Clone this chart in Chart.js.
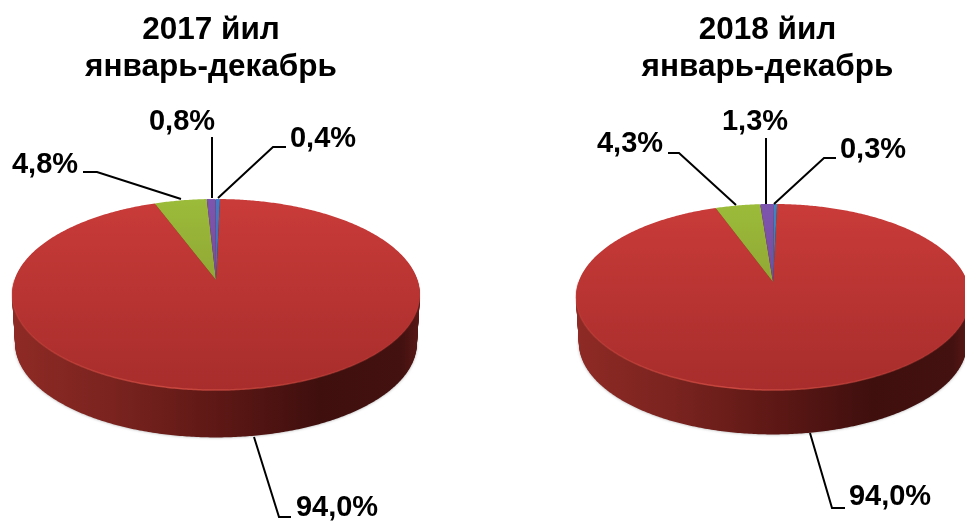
<!DOCTYPE html>
<html>
<head>
  <meta charset="UTF-8">
  <title>2017-2018</title>
  <script src="https://cdn.jsdelivr.net/npm/chart.js"></script>
  <style>
    html, body { margin: 0; padding: 0; background: #fff; width: 965px; height: 521px; overflow: hidden; }
    canvas { position: absolute; top: 0; }
    #chart2017 { left: 0; }
    #chart2018 { left: 553px; }
  </style>
</head>
<body>
  <canvas id="chart2017" width="422" height="521"></canvas>
  <canvas id="chart2018" width="429" height="521"></canvas>

  <script>
    // values
    const titles2017 = ['2017 йил', 'январь-декабрь'];
    const titles2018 = ['2018 йил', 'январь-декабрь'];
    const labels2017 = ['94,0%', '4,8%', '0,8%', '0,4%'];
    const labels2018 = ['94,0%', '4,3%', '1,3%', '0,3%'];
    const values2017 = [94.0, 4.8, 0.8, 0.4];
    const values2018 = [94.0, 4.3, 1.3, 0.3];
    const colors2017 = ['#C93B39', '#9BBB3A', '#7E55AE', '#4679C4'];
    const colors2018 = ['#C93B39', '#9BBB3A', '#7E55AE', '#3C86C4'];

    // label centre and leader line for each slice, in page pixels
    const callouts2017 = [
      { at: [337, 508], line: [[254, 437], [279, 517], [291, 517]] },
      { at: [45, 165], line: [[83, 172], [97, 172], [181, 199]] },
      { at: [182, 122], line: [[212, 137], [212, 198]] },
      { at: [323, 139], line: [[286, 147], [273, 147], [218, 198]] }
    ];
    const callouts2018 = [
      { at: [890, 497], line: [[810, 433], [832, 508], [845, 508]] },
      { at: [630, 144], line: [[668, 153], [679, 153], [736, 205]] },
      { at: [755, 122], line: [[766, 138], [766, 204]] },
      { at: [873, 150], line: [[836, 158], [824, 158], [774, 204]] }
    ];

    const FONT = '"Liberation Sans", Arial, sans-serif';

    // point on the rim of the tilted disc, the far side is squeezed by perspective
    function rimPoint(arc, angle, view, shrink) {
      const u = Math.cos(angle), v = -Math.sin(angle);
      const w = 1 + view.persp * v;
      const r = arc.outerRadius * (shrink || 1);
      return [arc.x + view.shift + r * u / w, arc.y - r * view.tilt * v / w];
    }

    function traceRim(ctx, arc, from, to, view, dy, shrink) {
      const steps = Math.max(2, Math.ceil(Math.abs(to - from) / 0.01));
      for (let i = 0; i <= steps; i++) {
        const p = rimPoint(arc, from + (to - from) * i / steps, view, shrink);
        ctx.lineTo(p[0], p[1] + dy);
      }
    }

    const tiltedPie = {
      id: 'tiltedPie',
      beforeDatasetDraw(chart, args, opts) {
        const ctx = chart.ctx;
        const arcs = chart.getDatasetMeta(0).data;
        const first = arcs[0];
        const full = [-Math.PI / 2, Math.PI * 1.5];
        const cx = first.x + opts.shift;
        const x0 = cx - first.outerRadius * 1.02, x1 = cx + first.outerRadius * 1.02;

        // side wall, a little narrower at the bottom
        const wall = ctx.createLinearGradient(x0, 0, x1, 0);
        wall.addColorStop(0, '#8F2A25');
        wall.addColorStop(0.25, '#7A231F');
        wall.addColorStop(0.5, '#5E1815');
        wall.addColorStop(0.75, '#3F0F0E');
        wall.addColorStop(0.95, '#421110');
        wall.addColorStop(1, '#5C1916');
        ctx.save();
        ctx.fillStyle = wall;
        ctx.shadowColor = 'rgba(0,0,0,0.35)';
        ctx.shadowBlur = 3;
        for (let d = opts.depth; d > 0; d--) {
          if (d === opts.depth - 1) ctx.shadowColor = 'transparent';
          ctx.beginPath();
          traceRim(ctx, first, full[0], full[1], opts, d, 1 - 0.015 * d / opts.depth);
          ctx.closePath();
          ctx.fill();
        }
        ctx.restore();

        // top surface, slice angles come from the library
        arcs.forEach(arc => {
          ctx.beginPath();
          ctx.moveTo(arc.x + opts.shift, arc.y);
          traceRim(ctx, arc, arc.startAngle, arc.endAngle, opts, 0);
          ctx.closePath();
          ctx.fillStyle = arc.options.backgroundColor;
          ctx.fill();
        });

        // light falling off towards the viewer
        const top = rimPoint(first, -Math.PI / 2, opts)[1];
        const bottom = rimPoint(first, Math.PI / 2, opts)[1];
        const shade = ctx.createLinearGradient(0, top, 0, bottom);
        shade.addColorStop(0, 'rgba(60,0,0,0)');
        shade.addColorStop(1, 'rgba(60,0,0,0.24)');
        ctx.beginPath();
        traceRim(ctx, first, full[0], full[1], opts, 0);
        ctx.closePath();
        ctx.fillStyle = shade;
        ctx.fill();

        // bright edge along the front
        const edge = ctx.createLinearGradient(x0, 0, x1, 0);
        edge.addColorStop(0, 'rgba(214,80,70,0.25)');
        edge.addColorStop(0.4, 'rgba(214,80,70,0.8)');
        edge.addColorStop(0.7, 'rgba(214,80,70,0.5)');
        edge.addColorStop(1, 'rgba(214,80,70,0.1)');
        ctx.beginPath();
        traceRim(ctx, first, 0, Math.PI, opts, 0);
        ctx.strokeStyle = edge;
        ctx.lineWidth = 1.5;
        ctx.stroke();
        return false;
      },
      afterDatasetsDraw(chart, args, opts) {
        const ctx = chart.ctx;
        ctx.save();
        ctx.strokeStyle = '#000';
        ctx.lineWidth = 2;
        ctx.fillStyle = '#000';
        ctx.font = 'bold 29px ' + FONT;
        ctx.textAlign = 'center';
        ctx.textBaseline = 'middle';
        chart.data.labels.forEach((label, i) => {
          const c = opts.callouts[i];
          ctx.beginPath();
          c.line.forEach(p => ctx.lineTo(p[0] - opts.left, p[1]));
          ctx.stroke();
          ctx.fillText(label, c.at[0] - opts.left, c.at[1]);
        });
        ctx.restore();
      }
    };

    function makePie(id, title, labels, values, colors, radius, rotation, padding, view) {
      new Chart(document.getElementById(id).getContext('2d'), {
        type: 'pie',
        data: {
          labels: labels,
          datasets: [{ data: values, backgroundColor: colors, borderWidth: 0 }]
        },
        options: {
          responsive: false,
          animation: false,
          devicePixelRatio: 1,
          radius: radius,
          rotation: rotation,
          layout: { padding: padding },
          plugins: {
            legend: { display: false },
            tooltip: { enabled: false },
            title: {
              display: true,
              text: title,
              color: '#000',
              font: { family: FONT, size: 31.5, weight: 'bold', lineHeight: 1.175 },
              padding: { top: 12, bottom: 6 }
            },
            tiltedPie: view
          }
        },
        plugins: [tiltedPie]
      });
    }

    makePie('chart2017', titles2017, labels2017, values2017, colors2017, 201.6, 1.3,
      { bottom: 53 },
      { tilt: 0.463, persp: 0.152, depth: 49, left: 0, shift: 5, callouts: callouts2017 });
    makePie('chart2018', titles2018, labels2018, values2018, colors2018, 194.5, 1.4,
      { bottom: 49 },
      { tilt: 0.466, persp: 0.161, depth: 46, left: 553, shift: 5.5, callouts: callouts2018 });
  </script>
</body>
</html>
